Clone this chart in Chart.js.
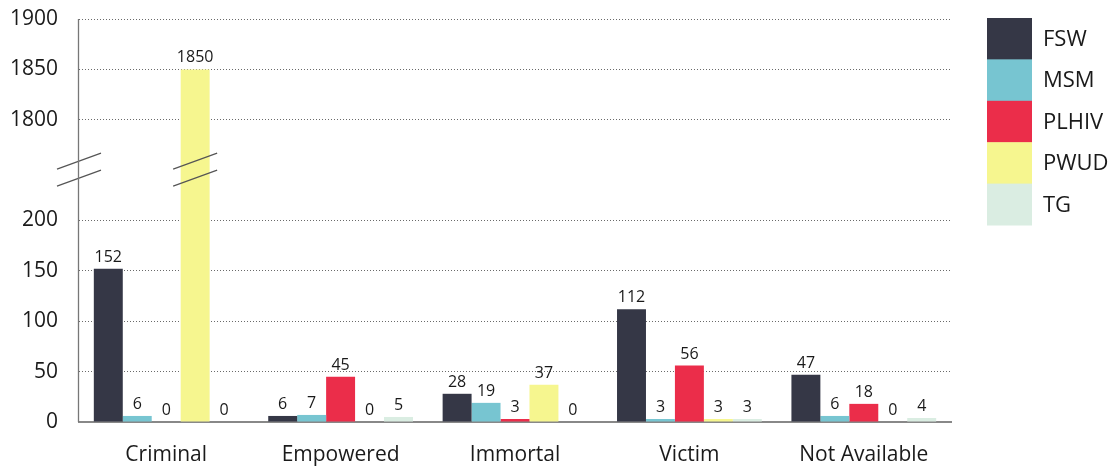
<!DOCTYPE html>
<html><head><meta charset="utf-8">
<script src="https://cdn.jsdelivr.net/npm/chart.js@4.4.0/dist/chart.umd.min.js"></script>
<style>html,body{margin:0;padding:0;background:#fff}#wrap{width:1118px;height:468px;position:relative}</style>
</head><body><div id="wrap"><canvas id="c" width="1118" height="468"></canvas></div>
<script>
const categories = ['Criminal', 'Empowered', 'Immortal', 'Victim', 'Not Available'];
const seriesNames = ['FSW', 'MSM', 'PLHIV', 'PWUD', 'TG'];
const FSW   = [152, 6, 28, 112, 47];
const MSM   = [6, 7, 19, 3, 6];
const PLHIV = [0, 45, 3, 56, 18];
const PWUD  = [1850, 0, 37, 3, 0];
const TG    = [0, 5, 0, 3, 4];
const lowerTicks = [0, 50, 100, 150, 200];
const upperTicks = [1800, 1850, 1900];
const colors = ['#353746', '#77c5d1', '#eb2d4a', '#f6f68f', '#daede2'];

// broken axis: lower segment 0..200, gap of 100 units, upper segment 1800..1900
const LOW_MAX = 200, HIGH_MIN = 1800, GAP = 100;
const toVirtual = v => v <= LOW_MAX ? v : LOW_MAX + GAP + (v - HIGH_MIN);
const toReal = v => v <= LOW_MAX ? v : v - LOW_MAX - GAP + HIGH_MIN;

const seriesValues = [FSW, MSM, PLHIV, PWUD, TG];
const TXT = '#1a1a1a';
const FONT = "'Open Sans', sans-serif";

const valueLabels = {
  id: 'valueLabels',
  afterDatasetsDraw(chart) {
    const ctx = chart.ctx;
    ctx.save();
    ctx.font = "16px " + FONT;
    ctx.fillStyle = TXT;
    ctx.textAlign = 'center';
    ctx.textBaseline = 'alphabetic';
    chart.data.datasets.forEach((ds, i) => {
      const meta = chart.getDatasetMeta(i);
      meta.data.forEach((bar, j) => {
        ctx.fillText(String(seriesValues[i][j]), bar.x, bar.y - 7);
      });
    });
    ctx.restore();
  }
};

const breakMarks = {
  id: 'breakMarks',
  afterDatasetsDraw(chart) {
    const ctx = chart.ctx, y = chart.scales.y;
    const yc = y.getPixelForValue(LOW_MAX + GAP / 2);
    const xs = [chart.chartArea.left];
    seriesValues.forEach((arr, i) => {
      arr.forEach((v, j) => {
        if (v >= HIGH_MIN) xs.push(chart.getDatasetMeta(i).data[j].x);
      });
    });
    ctx.save();
    ctx.strokeStyle = '#555';
    ctx.lineWidth = 1.2;
    xs.forEach(xc => {
      ctx.beginPath();
      ctx.moveTo(xc - 22, yc - 1); ctx.lineTo(xc + 22, yc - 17);
      ctx.moveTo(xc - 22, yc + 16); ctx.lineTo(xc + 22, yc);
      ctx.stroke();
    });
    ctx.restore();
  }
};

const sideLegend = {
  id: 'sideLegend',
  afterDraw(chart) {
    const ctx = chart.ctx, a = chart.chartArea;
    const x0 = a.right + 36, y0 = a.top - 1, bw = 45, bh = 41.4;
    ctx.save();
    ctx.font = "22px " + FONT;
    ctx.textAlign = 'left';
    ctx.textBaseline = 'middle';
    seriesNames.forEach((name, i) => {
      ctx.fillStyle = colors[i];
      ctx.fillRect(x0, y0 + i * bh, bw, bh + 0.5);
      ctx.fillStyle = TXT;
      ctx.fillText(name, x0 + 56, y0 + i * bh + bh / 2 + 1);
    });
    ctx.restore();
  }
};

const yAxisLine = {
  id: 'yAxisLine',
  afterDatasetsDraw(chart) {
    const ctx = chart.ctx, a = chart.chartArea;
    ctx.save();
    ctx.strokeStyle = '#777';
    ctx.lineWidth = 1.3;
    ctx.beginPath();
    ctx.moveTo(a.left - 0.5, a.top);
    ctx.lineTo(a.left - 0.5, a.bottom);
    ctx.stroke();
    ctx.restore();
  }
};

new Chart(document.getElementById('c'), {
  type: 'bar',
  data: {
    labels: categories,
    datasets: seriesNames.map((name, i) => ({
      label: name,
      data: seriesValues[i].map(toVirtual),
      backgroundColor: colors[i],
      borderWidth: 0
    }))
  },
  options: {
    responsive: false,
    animation: false,
    events: [],
    layout: { padding: { top: 19, right: 167, left: 0, bottom: 0 } },
    datasets: { bar: { categoryPercentage: 0.83, barPercentage: 1.0 } },
    plugins: { legend: { display: false }, tooltip: { enabled: false } },
    scales: {
      x: {
        grid: { display: false, drawTicks: false },
        border: { display: true, color: '#888', width: 2 },
        ticks: { color: TXT, font: { family: FONT, size: 21 }, padding: 20, maxRotation: 0 },
        afterFit(s) { s.height = 46; }
      },
      y: {
        min: 0,
        max: toVirtual(upperTicks[upperTicks.length - 1]),
        afterBuildTicks(s) {
          s.ticks = lowerTicks.concat(upperTicks).map(v => ({ value: toVirtual(v) }));
        },
        grid: {
          drawTicks: false,
          lineWidth: 1,
          color: c => (c.tick && c.tick.value === 0) ? 'rgba(0,0,0,0)' : '#6a6a6a'
        },
        border: { display: false, dash: [1, 2] },
        ticks: {
          color: TXT, font: { family: FONT, size: 21 }, padding: 21,
          callback: v => String(toReal(v))
        },
        afterFit(s) { s.width = 79; s.paddingTop = 0; s.paddingBottom = 0; }
      }
    }
  },
  plugins: [valueLabels, breakMarks, yAxisLine, sideLegend]
});
</script>
</body></html>
